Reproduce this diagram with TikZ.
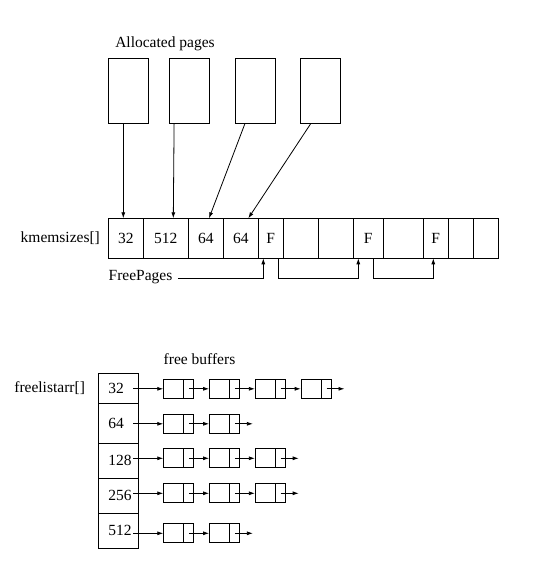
\documentclass[tikz,border=0pt]{standalone}
\usepackage{fontspec}
\setmainfont{Liberation Serif}
\usetikzlibrary{arrows.meta,positioning}

\begin{document}
\begin{tikzpicture}[
    x=1pt, y=-1pt,
    font=\fontsize{15.5}{18}\selectfont,
    every path/.style={line width=0.8pt},
    % --- STYLES ---
    page/.style={
        rectangle, draw=black,
        minimum width=40pt, minimum height=65pt
    },
    cell/.style={
        rectangle, draw=black,
        minimum height=40pt,
        inner sep=0pt, outer sep=0pt
    },
    slot/.style={
        rectangle, draw=black,
        minimum width=40pt, text width=20pt,
        inner xsep=10pt, inner ysep=0pt, outer sep=0pt,
        align=left
    },
    buf/.style={
        rectangle, draw=black,
        minimum width=30pt, minimum height=19pt, inner sep=0pt,
        path picture={\draw ([xshift=-10pt]path picture bounding box.north east)
            -- ([xshift=-10pt]path picture bounding box.south east);}
    },
    lbl/.style={inner sep=0pt},
    ptr/.style={-{Latex[length=6pt,width=4pt]}}
]

\useasboundingbox (0,0) rectangle (536,564);

% ===== 1. ALLOCATED PAGES =====
\node[lbl] (alloc) at (165,44) {Allocated pages};

\node[page] (pg1) at (128.3,90.8) {};
\node[page, right=20pt of pg1] (pg2) {};
\node[page, right=25pt of pg2] (pg3) {};
\node[page, right=25pt of pg3] (pg4) {};

% ===== 2. KMEMSIZES ARRAY =====
\node[cell, minimum width=35pt, anchor=west] (c1) at (108.3,238.3) {32};
\node[cell, minimum width=45pt, right=0pt of c1] (c2) {512};
\node[cell, minimum width=35pt, right=0pt of c2] (c3) {64};
\node[cell, minimum width=35pt, right=0pt of c3] (c4) {64};
\node[cell, minimum width=25pt, right=0pt of c4] (c5) {F};
\node[cell, minimum width=35pt, right=0pt of c5] (c6) {};
\node[cell, minimum width=35pt, right=0pt of c6] (c7) {};
\node[cell, minimum width=30pt, right=0pt of c7] (c8) {F};
\node[cell, minimum width=40pt, right=0pt of c8] (c9) {};
\node[cell, minimum width=25pt, right=0pt of c9] (c10) {F};
\node[cell, minimum width=25pt, right=0pt of c10] (c11) {};
\node[cell, minimum width=25pt, right=0pt of c11] (c12) {};

\node[lbl, left=8pt of c1] (kmem) {kmemsizes[]};
\node[lbl, anchor=mid west] (fp) at (108.3,278.7) {FreePages};

% pages -> sizes
\draw[ptr] ([xshift=-5pt]pg1.south) -- ([xshift=-2.5pt]c1.north);
\draw[ptr] ([xshift=-15pt]pg2.south) -- ([xshift=7.5pt]c2.north);
\draw[ptr] ([xshift=-10pt]pg3.south) -- ([xshift=3.2pt]c3.north);
\draw[ptr] ([xshift=-10pt]pg4.south) -- ([xshift=7.5pt]c4.north);

% free page chain
\draw[ptr] ([xshift=5pt]fp.mid east) -| ([xshift=-7.5pt]c5.south);
\draw[ptr] ([xshift=7.5pt]c5.south) -- ++(0,20) -| ([xshift=-10pt]c8.south);
\draw[ptr] ([xshift=5pt]c8.south) -- ++(0,20) -| ([xshift=-2.5pt]c10.south);

% ===== 3. FREELISTARR =====
\node[slot, minimum height=30pt, anchor=north west] (r1) at (98.3,373.3) {32};
\node[slot, minimum height=40pt, below=0pt of r1] (r2) {64};
\node[slot, minimum height=35pt, below=0pt of r2] (r3) {128};
\node[slot, minimum height=35pt, below=0pt of r3] (r4) {256};
\node[slot, minimum height=35pt, below=0pt of r4] (r5) {512};

\node[lbl, left=13pt of r1] (flist) {freelistarr[]};
\node[lbl, anchor=base west] (fb) at (163.3,364) {free buffers};

% buffers
\node[buf, anchor=west] (b11) at (163.3,388.8) {};
\node[buf, right=15pt of b11] (b12) {};
\node[buf, right=15pt of b12] (b13) {};
\node[buf, right=15pt of b13] (b14) {};

\node[buf, anchor=west] (b21) at (163.3,423.8) {};
\node[buf, right=15pt of b21] (b22) {};

\node[buf, anchor=west] (b31) at (163.3,458.3) {};
\node[buf, right=15pt of b31] (b32) {};
\node[buf, right=15pt of b32] (b33) {};

\node[buf, anchor=west] (b41) at (163.3,493.3) {};
\node[buf, right=15pt of b41] (b42) {};
\node[buf, right=15pt of b42] (b43) {};

\node[buf, anchor=west] (b51) at (163.3,533.3) {};
\node[buf, right=15pt of b51] (b52) {};

% ===== 4. LIST LINKS =====
\draw[ptr] ([xshift=-5pt]r1.east |- b11.west) -- (b11.west);
\draw[ptr] ([xshift=-5pt]b11.east) -- (b12.west);
\draw[ptr] ([xshift=-5pt]b12.east) -- (b13.west);
\draw[ptr] ([xshift=-5pt]b13.east) -- (b14.west);
\draw[ptr] ([xshift=-5pt]b14.east) -- ++(18,0);

\draw[ptr] ([xshift=-5pt]r2.east |- b21.west) -- (b21.west);
\draw[ptr] ([xshift=-5pt]b21.east) -- (b22.west);
\draw[ptr] ([xshift=-5pt]b22.east) -- ++(18,0);

\draw[ptr] ([xshift=-5pt]r3.east |- b31.west) -- (b31.west);
\draw[ptr] ([xshift=-5pt]b31.east) -- (b32.west);
\draw[ptr] ([xshift=-5pt]b32.east) -- (b33.west);
\draw[ptr] ([xshift=-5pt]b33.east) -- ++(18,0);

\draw[ptr] ([xshift=-5pt]r4.east |- b41.west) -- (b41.west);
\draw[ptr] ([xshift=-5pt]b41.east) -- (b42.west);
\draw[ptr] ([xshift=-5pt]b42.east) -- (b43.west);
\draw[ptr] ([xshift=-5pt]b43.east) -- ++(18,0);

\draw[ptr] ([xshift=-5pt]r5.east |- b51.west) -- (b51.west);
\draw[ptr] ([xshift=-5pt]b51.east) -- (b52.west);
\draw[ptr] ([xshift=-5pt]b52.east) -- ++(18,0);

\end{tikzpicture}
\end{document}
